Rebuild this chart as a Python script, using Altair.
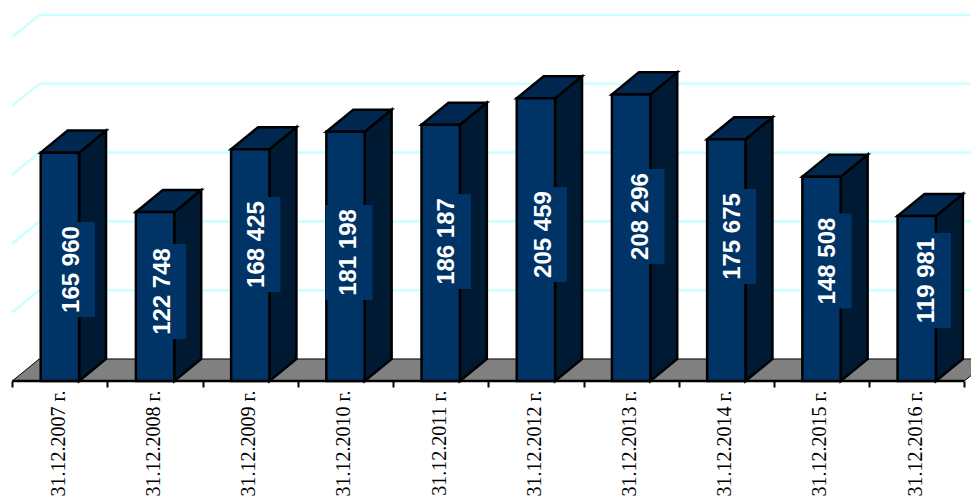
import altair as alt
import pandas as pd

# ---- values ----
dates = ["31.12.2007 г.", "31.12.2008 г.", "31.12.2009 г.", "31.12.2010 г.", "31.12.2011 г.",
         "31.12.2012 г.", "31.12.2013 г.", "31.12.2014 г.", "31.12.2015 г.", "31.12.2016 г."]
values = [165960, 122748, 168425, 181198, 186187, 205459, 208296, 175675, 148508, 119981]
texts = ["165 960", "122 748", "168 425", "181 198", "186 187",
         "205 459", "208 296", "175 675", "148 508", "119 981"]
# where each data label sits (category units, value units)
label_cat = [0.622, 1.578, 2.570, 3.537, 4.571, 5.580, 6.604, 7.565, 8.568, 9.613]
label_val = [81032, 65044, 99200, 93387, 101381, 106468, 119549, 105015, 87209, 73038]
grid_levels = [50000, 100000, 150000, 200000, 250000]

# ---- pseudo-3D geometry (in scale units) ----
DX = 0.283      # depth along x, categories
DY = 16000      # depth along y, value units
BAR = 0.403     # front face width, categories
N = len(dates)

x_scale = alt.Scale(domain=[-0.045, 10.07], nice=False, zero=False)
y_scale = alt.Scale(domain=[0, 271076], nice=False, zero=False)
x_axis = alt.Axis(values=list(range(N + 1)), domain=False, grid=False, title=None,
                  ticks=True, tickColor="#000000", tickWidth=2, tickSize=6,
                  labelExpr="(" + str(dates) + ")[datum.value] || ''",
                  labelAngle=-90, labelAlign="right", labelBaseline="middle",
                  labelOffset=46, labelPadding=3, labelOverlap=False, labelBound=False,
                  labelFont="Liberation Sans Narrow", labelFontSize=20,
                  labelColor="#000000", labelFlush=False)
X = lambda f="x": alt.X(f, type="quantitative", scale=x_scale, axis=x_axis)
Y = lambda f="y": alt.Y(f, type="quantitative", scale=y_scale, axis=None, stack=None)

grid_rows = []
for lv in grid_levels:
    grid_rows += [{"lv": lv, "x": 0, "y": lv},
                  {"lv": lv, "x": DX, "y": lv + DY},
                  {"lv": lv, "x": N + DX, "y": lv + DY}]
grid = alt.Chart(pd.DataFrame(grid_rows)).mark_line(color="#CCFFFF", strokeWidth=2.6).encode(
    x=X(), y=Y(), detail="lv:N")

floor_df = pd.DataFrame({"x": [0, DX, N, N + DX], "y": [0, 0, 0, DY], "y2": [0, DY, DY, DY]})
floor = alt.Chart(floor_df).mark_area(color="#808080", stroke="#000000", strokeWidth=1).encode(
    x=X(), y=Y(), y2="y2")

base_line = alt.Chart(pd.DataFrame({"x": [0, N], "y": [0, 0]})).mark_line(
    color="#000000", strokeWidth=2.5).encode(x=X(), y=Y())

side_rows, top_rows, front_rows = [], [], []
for i, v in enumerate(values):
    xl = i + 0.5 - BAR / 2
    xr = i + 0.5 + BAR / 2
    side_rows += [{"c": i, "x": xr, "y": 0, "y2": v},
                  {"c": i, "x": xr + DX, "y": DY, "y2": v + DY}]
    top_rows += [{"c": i, "x": xl, "y": v, "y2": v},
                 {"c": i, "x": xl + DX, "y": v, "y2": v + DY},
                 {"c": i, "x": xr, "y": v, "y2": v + DY},
                 {"c": i, "x": xr + DX, "y": v + DY, "y2": v + DY}]
    front_rows.append({"x": xl, "x2": xr, "y": 0, "y2": v})

side = alt.Chart(pd.DataFrame(side_rows)).mark_area(
    color="#001A33", stroke="#000000", strokeWidth=2.5, strokeJoin="miter").encode(
    x=X(), y=Y(), y2="y2", detail="c:N")
top = alt.Chart(pd.DataFrame(top_rows)).mark_area(
    color="#002850", stroke="#000000", strokeWidth=2.5, strokeJoin="miter").encode(
    x=X(), y=Y(), y2="y2", detail="c:N")
front = alt.Chart(pd.DataFrame(front_rows)).mark_rect(
    color="#003366", stroke="#000000", strokeWidth=2.5).encode(
    x=X(), x2="x2", y=Y(), y2="y2")

HW = 0.247
HH = 34500
bg_df = pd.DataFrame({"x": [c - HW for c in label_cat], "x2": [c + HW for c in label_cat],
                      "y": [v - HH for v in label_val], "y2": [v + HH for v in label_val]})
label_bg = alt.Chart(bg_df).mark_rect(color="#003366").encode(x=X(), x2="x2", y=Y(), y2="y2")

label_df = pd.DataFrame({"x": label_cat, "y": label_val, "t": texts})
labels = alt.Chart(label_df).mark_text(
    angle=270, align="center", baseline="middle", color="#FFFFFF",
    font="Liberation Sans", fontWeight="bold", fontSize=24).encode(x=X(), y=Y(), text="t:N")

chart = alt.layer(grid, floor, base_line, side, top, front, label_bg, labels).properties(
    width=963, height=373, background="#FFFFFF",
    padding={"left": 0, "top": 0, "right": 0, "bottom": 116},
    autosize=alt.AutoSizeParams(type="none"),
).configure_view(strokeWidth=0)

chart.save("out.html", embed_options={"renderer": "svg", "actions": False})
